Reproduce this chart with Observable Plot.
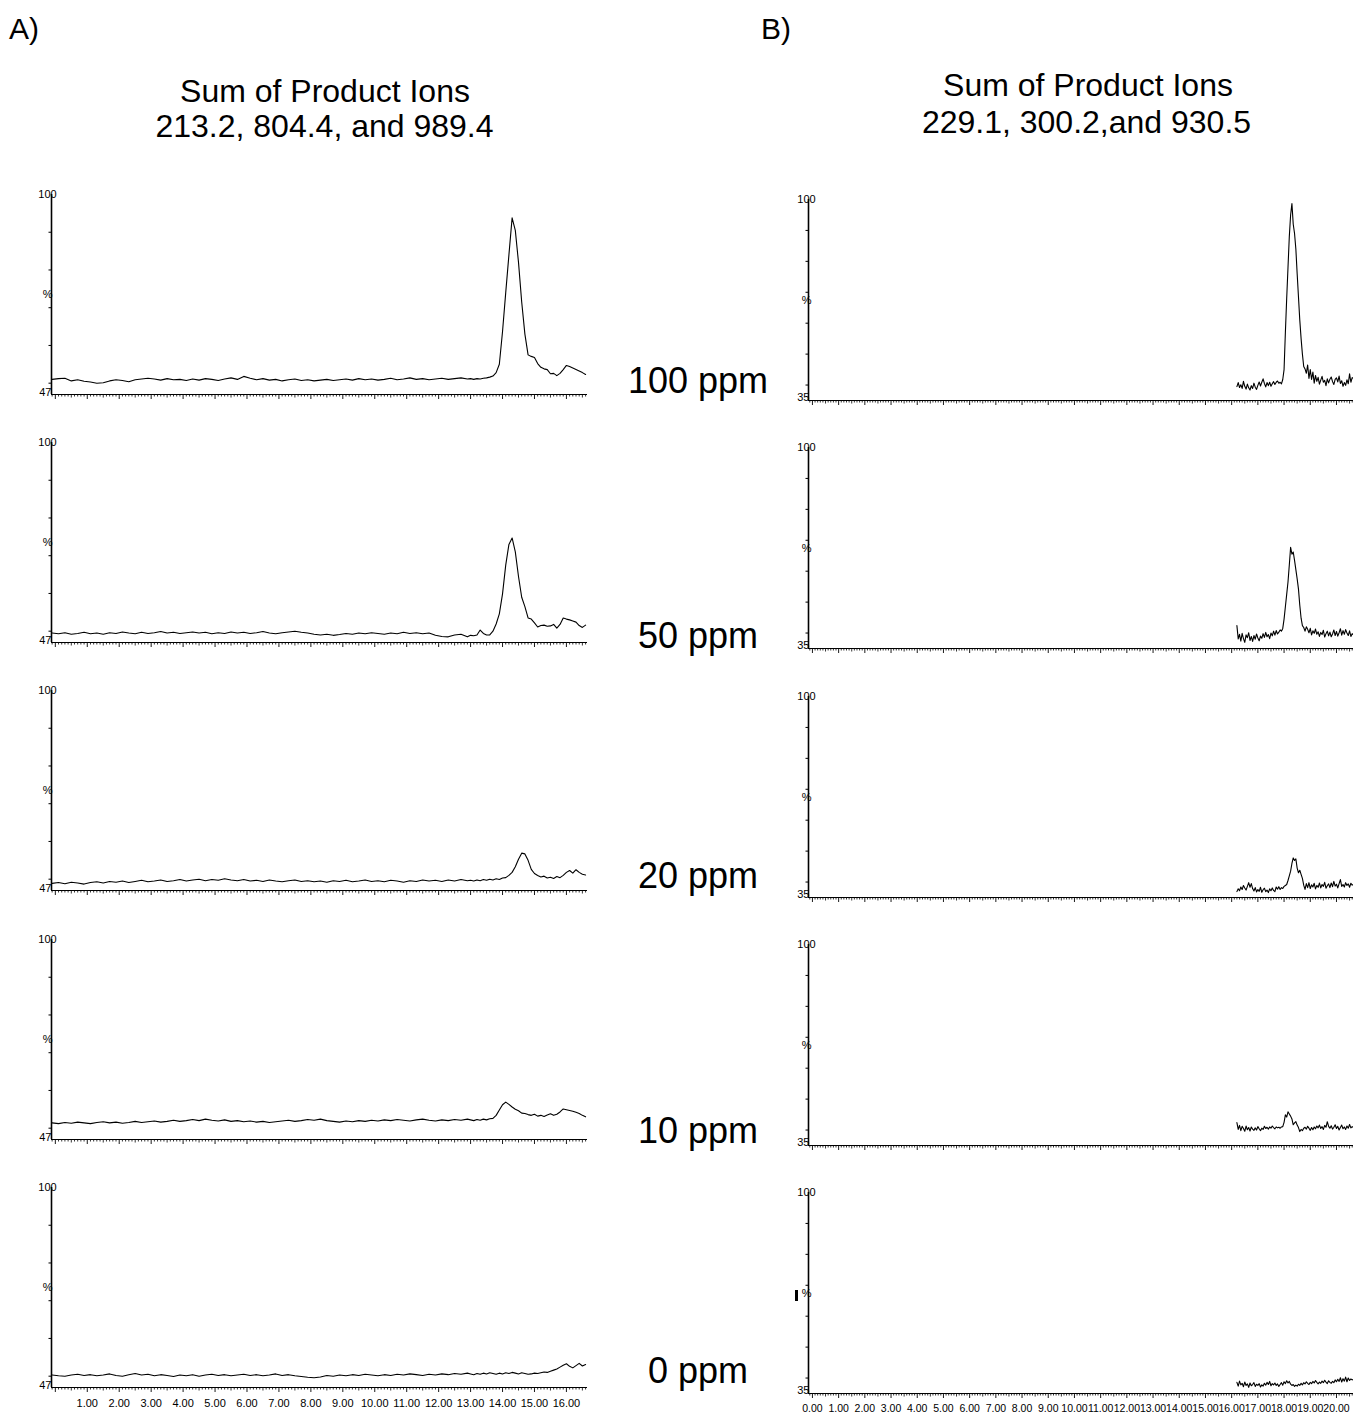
<!DOCTYPE html>
<html>
<head>
<meta charset="utf-8">
<script src="https://cdn.jsdelivr.net/npm/d3@7"></script>
<script src="https://cdn.jsdelivr.net/npm/@observablehq/plot@0.6"></script>
<style>
  html, body { margin: 0; padding: 0; background: #fff; }
  #root { position: relative; width: 1353px; height: 1414px; overflow: hidden; background: #fff;
          font-family: "Liberation Sans", Arial, Helvetica, sans-serif; color: #000; }
  .t { position: absolute; white-space: nowrap; line-height: 1; }
  #root svg { position: absolute; background: transparent; }
</style>
</head>
<body>
<div id="root"></div>
<script>
// ---------------- DATA ----------------
const panelLetters = ["A)", "B)"];
const leftTitle = ["Sum of Product Ions", "213.2, 804.4, and 989.4"];
const rightTitle = ["Sum of Product Ions", "229.1, 300.2,and 930.5"];
const concentrationLabels = ["100 ppm", "50 ppm", "20 ppm", "10 ppm", "0 ppm"];

// retention time (min), panel A
const leftTime = [
  -0.1, 0.1, 0.3, 0.5, 0.7, 0.9, 1.1, 1.3, 1.5, 1.7,
  1.9, 2.1, 2.3, 2.5, 2.7, 2.9, 3.1, 3.3, 3.5, 3.7,
  3.9, 4.1, 4.3, 4.5, 4.7, 4.9, 5.1, 5.3, 5.5, 5.7,
  5.9, 6.1, 6.3, 6.5, 6.7, 6.9, 7.1, 7.3, 7.5, 7.7,
  7.9, 8.1, 8.3, 8.5, 8.7, 8.9, 9.1, 9.3, 9.5, 9.7,
  9.9, 10.1, 10.3, 10.5, 10.7, 10.9, 11.1, 11.3, 11.5, 11.7,
  11.9, 12.1, 12.3, 12.5, 12.7, 12.9, 13.0, 13.1, 13.2, 13.3,
  13.4, 13.5, 13.6, 13.7, 13.8, 13.9, 14.0, 14.1, 14.2, 14.3,
  14.4, 14.5, 14.6, 14.7, 14.8, 14.9, 15.0, 15.1, 15.2, 15.3,
  15.4, 15.5, 15.6, 15.7, 15.8, 15.9, 16.0, 16.1, 16.2, 16.3,
  16.4, 16.5, 16.6
];
// relative intensity (%), panel A
const left100 = [
  51.0, 51.2, 51.3, 50.6, 50.9, 50.5, 50.3, 50.0, 50.1, 50.6,
  50.9, 50.7, 50.4, 50.9, 51.1, 51.3, 51.1, 50.8, 51.2, 50.9,
  51.0, 50.7, 51.1, 50.8, 51.2, 51.0, 50.7, 51.1, 51.4, 51.0,
  51.8, 51.3, 50.9, 51.2, 50.8, 51.0, 50.6, 50.9, 51.1, 50.7,
  50.9, 50.6, 50.8, 51.0, 50.7, 50.9, 51.1, 50.8, 51.2, 50.9,
  51.1, 50.8, 51.0, 51.3, 50.9, 51.1, 51.4, 51.0, 51.2, 50.9,
  51.1, 51.3, 51.0, 51.2, 51.4, 51.1, 51.2, 51.0, 51.2, 51.1,
  51.3, 51.4, 51.6, 51.9, 52.8, 55.0, 63.7, 74.0, 84.0, 93.8,
  90.5, 82.0, 71.5, 63.0, 57.5, 57.1, 56.8, 55.2, 54.2, 53.8,
  53.6, 52.5, 52.6, 52.0, 52.6, 53.6, 54.7, 54.4, 54.0, 53.6,
  53.2, 52.8, 52.3
];
const left50 = [
  49.5, 49.3, 49.6, 49.2, 49.4, 49.7, 49.3, 49.5, 49.2, 49.6,
  49.4, 49.8, 49.5, 49.3, 49.7, 49.4, 49.6, 49.9, 49.5, 49.7,
  49.4, 49.6, 49.8, 49.5, 49.7, 49.3, 49.6, 49.4, 49.8, 49.5,
  49.7, 49.4, 49.6, 49.9, 49.5, 49.3, 49.6, 49.8, 50.0, 49.7,
  49.5, 49.2, 49.0, 49.2, 48.9, 49.1, 49.4, 49.2, 49.5, 49.3,
  49.6, 49.4, 49.2, 49.5, 49.3, 49.7, 49.4, 49.6, 49.3, 49.5,
  48.9, 48.6, 48.5, 49.0, 49.2, 48.5, 48.9, 48.8, 49.0, 50.3,
  49.4, 49.0, 49.0, 50.0, 51.9, 54.6, 59.9, 67.5, 73.0, 74.7,
  71.0, 64.5, 59.0, 56.5, 53.5, 53.2, 52.2, 51.1, 51.5, 51.6,
  51.3, 51.4, 51.8, 50.8, 51.8, 53.5, 53.2, 53.0, 52.7, 52.4,
  51.5, 51.0, 51.6
];
const left20 = [
  48.9, 49.1, 48.8, 49.2, 49.0, 48.7, 49.1, 49.3, 49.0, 49.4,
  49.2, 49.5, 49.1, 49.4, 49.7, 49.3, 49.5, 49.8, 49.4, 49.6,
  49.9, 49.5, 49.8, 50.0, 49.6, 49.9, 49.7, 50.1, 49.8, 49.6,
  49.9, 49.5, 49.7, 49.4, 49.8, 49.5, 49.3, 49.6, 49.8, 49.4,
  49.6, 49.3, 49.5, 49.2, 49.6, 49.4, 49.7, 49.3, 49.5, 49.8,
  49.4, 49.6, 49.3, 49.7, 49.5, 49.2, 49.6, 49.4, 49.8, 49.5,
  49.7, 49.4, 49.8, 49.5, 49.9, 49.6, 49.7, 49.5, 49.8, 49.6,
  49.9, 49.7, 50.0, 49.8, 50.1, 49.9, 50.3, 50.4, 51.0, 51.8,
  53.3, 55.3, 56.9, 56.7, 55.0, 52.6, 51.5, 51.0, 50.6, 50.8,
  50.3, 50.5, 50.2, 50.7, 50.4, 51.0, 51.8, 52.3, 51.6, 52.5,
  51.8, 51.3, 51.1
];
const left10 = [
  51.4, 51.2, 51.5, 51.3, 51.6, 51.4, 51.2, 51.5, 51.7, 51.4,
  51.6, 51.3, 51.5, 51.8, 51.5, 51.7, 51.9, 51.6, 51.8, 52.1,
  51.8, 52.0, 52.3, 52.0, 52.4, 52.1, 51.9, 52.2, 51.8, 52.0,
  51.7, 51.9, 51.6, 51.8, 51.5, 51.7, 51.9, 52.1, 51.8, 52.0,
  52.3, 52.1, 52.4, 52.0, 51.8, 51.6, 51.9, 51.7, 52.0, 51.8,
  52.1, 51.9, 52.2, 52.0, 52.3, 52.1, 51.9, 52.2, 52.4, 52.1,
  51.9, 52.2, 52.0, 52.3, 52.1, 52.4, 52.2, 52.0, 52.3, 52.1,
  52.4, 52.2, 52.5, 52.6, 53.4, 54.8, 56.2, 56.9, 56.3, 55.6,
  55.0, 54.6, 54.0, 53.9, 53.6, 53.4, 53.7, 53.2, 53.4, 53.1,
  53.5, 53.8, 53.4, 53.7, 54.3, 55.1, 54.9, 54.7, 54.5, 54.2,
  53.9, 53.4, 53.0
];
const left0 = [
  50.3, 50.1, 50.0, 50.3, 50.5, 50.2, 50.4, 50.1, 50.3, 50.6,
  50.2, 50.0, 50.4, 50.7, 50.3, 50.5, 50.1, 50.4, 50.2, 49.9,
  50.3, 50.1, 50.4, 50.0, 50.3, 50.5, 50.2, 50.4, 50.1, 50.3,
  50.5, 50.2, 50.4, 50.1, 50.3, 50.6, 50.2, 50.4, 50.1, 49.9,
  49.7, 49.6, 49.8, 50.2, 50.0, 50.3, 50.1, 50.4, 50.2, 50.5,
  50.3, 50.1, 50.4, 50.2, 50.5, 50.3, 50.6, 50.4, 50.2, 50.5,
  50.3, 50.6, 50.4, 50.7, 50.5, 50.8, 50.6, 50.4, 50.7, 50.5,
  50.8, 50.6, 50.9, 50.7, 50.5, 50.8, 50.6, 50.9, 50.7, 51.0,
  50.8, 50.6, 50.9, 50.7, 50.5, 50.6, 50.8, 50.7, 50.9, 51.1,
  51.0, 51.3, 51.6, 51.9, 52.4, 52.9, 53.3, 52.6, 52.2, 52.8,
  53.4, 52.7, 53.1
];

// retention time (min), panel B
const rightTime = [
  16.20, 16.25, 16.30, 16.35, 16.40, 16.45, 16.50, 16.55, 16.60, 16.65,
  16.70, 16.75, 16.80, 16.85, 16.90, 16.95, 17.00, 17.05, 17.10, 17.15,
  17.20, 17.25, 17.30, 17.35, 17.40, 17.45, 17.50, 17.55, 17.60, 17.65,
  17.70, 17.75, 17.80, 17.85, 17.90, 17.95, 18.00, 18.05, 18.10, 18.15,
  18.20, 18.25, 18.30, 18.35, 18.40, 18.45, 18.50, 18.55, 18.60, 18.65,
  18.70, 18.75, 18.80, 18.85, 18.90, 18.95, 19.00, 19.05, 19.10, 19.15,
  19.20, 19.25, 19.30, 19.35, 19.40, 19.45, 19.50, 19.55, 19.60, 19.65,
  19.70, 19.75, 19.80, 19.85, 19.90, 19.95, 20.00, 20.05, 20.10, 20.15,
  20.20, 20.25, 20.30, 20.35, 20.40, 20.45, 20.50, 20.55, 20.60, 20.65
];
// relative intensity (%), panel B
const right100 = [
  39.5, 40.8, 39.2, 40.1, 38.9, 41.2, 39.6, 38.7, 40.3, 39.1,
  38.4, 39.8, 38.9, 40.6, 39.3, 38.6, 39.9, 41.0, 39.7, 40.9,
  42.0, 40.5, 39.4, 40.8, 39.8, 40.9, 39.6, 40.4, 41.1, 40.2,
  40.9, 41.3, 40.6, 40.9, 40.4, 41.8, 45.0, 57.0, 68.0, 78.0,
  88.0, 95.0, 98.7, 92.0, 89.0, 84.0, 76.0, 68.5, 61.0, 55.0,
  50.0, 46.0, 45.2, 43.8, 46.5, 42.1, 45.0, 41.8, 44.2, 40.6,
  43.1, 41.2, 42.5, 40.3, 41.6, 42.8, 40.9, 41.5, 39.8, 42.0,
  40.7, 41.9, 42.6, 41.1, 40.2, 41.8, 42.3, 41.0, 42.9, 40.5,
  41.4, 39.6, 40.8, 39.9, 41.7, 40.4, 43.6, 40.9, 42.4, 42.1
];
const right50 = [
  42.4, 38.1, 39.6, 37.4, 39.9, 38.2, 37.0, 39.4, 38.5, 40.1,
  37.6, 38.9, 37.3, 39.2, 38.0, 39.7, 38.4, 37.5, 39.0, 38.3,
  39.8, 38.6, 40.2, 38.8, 39.5, 38.2, 40.0, 39.1, 40.6, 39.3,
  40.8, 39.7, 40.3, 41.0, 40.6, 41.5, 44.5, 48.5, 52.5, 56.5,
  62.0, 67.7, 65.5, 66.2, 63.5, 60.5, 57.5, 54.2, 49.0, 44.8,
  42.4, 41.8, 40.6, 42.0, 41.2, 40.1, 41.5, 39.4, 40.7, 39.9,
  41.3, 39.6, 40.4, 38.9, 40.2, 39.5, 40.9, 38.7, 39.8, 40.6,
  39.1, 40.3, 38.8, 39.7, 41.0, 39.2, 40.5, 39.0, 40.1, 41.4,
  39.3, 40.8, 39.6, 41.1, 40.0, 39.2, 40.7, 38.9, 39.8, 39.4
];
const right20 = [
  36.9, 37.8, 37.2, 38.4, 37.6, 38.9, 38.1, 37.4, 38.6, 39.8,
  38.3, 39.5, 37.9, 37.1, 38.2, 36.8, 37.6, 37.0, 38.3, 36.7,
  37.5, 38.0, 36.9, 37.4, 36.6, 37.8, 37.2, 38.1, 37.3, 36.9,
  38.4, 37.7, 38.5, 37.6, 38.2, 37.9, 38.6, 38.9, 39.2, 40.5,
  42.0, 43.5, 46.0, 47.8, 47.0, 47.5, 44.5, 43.0, 43.8, 42.5,
  41.2, 39.0, 37.6, 39.5, 38.2, 39.8, 37.9, 39.1, 38.4, 39.6,
  37.8, 38.9, 38.3, 39.7, 38.1, 39.2, 38.6, 39.9, 38.0, 38.8,
  39.4, 38.2, 39.7, 38.5, 40.2, 38.7, 39.3, 38.1, 39.5, 40.8,
  38.6, 39.2, 38.4, 39.8, 38.9, 39.4, 38.3, 39.6, 39.0, 39.3
];
const right10 = [
  42.4, 40.2, 41.5, 39.8, 41.2, 40.5, 39.6, 41.3, 40.1, 40.8,
  39.7, 41.0, 40.3, 39.9, 40.7, 40.0, 41.1, 40.4, 39.8, 40.6,
  40.2, 41.2, 40.5, 40.9, 40.3, 41.0, 40.6, 41.3, 40.8, 40.4,
  41.0, 40.7, 40.9, 40.6, 41.0, 41.1, 42.5, 44.9, 44.2, 45.9,
  45.2, 44.5, 43.6, 41.7, 42.3, 42.7, 41.6, 40.8, 39.5, 40.2,
  39.8, 40.6, 40.9, 40.3, 41.2, 40.6, 39.9, 40.8, 40.1, 41.0,
  40.4, 41.3, 40.7, 41.6, 40.5, 41.1, 40.2, 41.5, 40.9, 42.7,
  41.2, 40.6, 41.4, 40.3, 40.9, 41.7, 40.5, 41.2, 40.0, 40.8,
  41.6, 40.4, 41.0, 40.2, 41.3, 40.6, 41.8, 40.7, 41.1, 40.9
];
const right0 = [
  38.6, 37.4, 39.0, 37.8, 38.3, 37.2, 38.7, 37.6, 38.1, 37.0,
  38.4, 37.5, 37.9, 38.5, 37.3, 38.0, 37.6, 38.2, 37.1, 37.8,
  37.4, 38.3, 37.7, 38.6, 37.9, 38.9, 37.5, 38.2, 37.8, 38.4,
  37.6, 38.1, 37.3, 37.9, 38.5, 37.7, 38.8, 38.2, 39.1, 38.4,
  38.9, 38.0, 37.6, 37.9, 37.3, 37.7, 37.4, 38.0, 37.6, 38.3,
  37.8, 38.5, 38.1, 38.8, 38.3, 37.9, 38.6, 38.2, 38.9, 38.4,
  39.2, 38.6, 38.1, 38.7, 38.3, 39.0, 38.5, 39.3, 38.7, 38.2,
  39.1, 38.6, 38.3, 38.9, 38.5, 39.4, 38.8, 39.6, 38.9, 40.1,
  38.7, 39.8, 39.0, 40.3, 38.8, 40.0, 39.2, 39.7, 39.4, 39.6
];

// axis ticks and labels
const leftXTickLabels = [1, 2, 3, 4, 5, 6, 7, 8, 9, 10, 11, 12, 13, 14, 15, 16];
const rightXTickLabels = [0, 1, 2, 3, 4, 5, 6, 7, 8, 9, 10, 11, 12, 13, 14, 15, 16, 17, 18, 19, 20];
const leftYTicks = [50, 60, 70, 80, 90];
const rightYTicks = [40, 50, 60, 70, 80, 90];
const leftYLabels = ["100", "%", "47"];
const leftYLabelValues = [100, 73.5, 47];
const rightYLabels = ["100", "%", "35"];
const rightYLabelValues = [100, 67.5, 35];

const leftSeries = [left100, left50, left20, left10, left0];
const rightSeries = [right100, right50, right20, right10, right0];

// ---------------- DRAWING ----------------
const root = document.getElementById("root");
const fmt = d3.format(".2f");

function chromatogram(cfg) {
  const mt = 12, mb = 26;
  const points = cfg.time.map((t, i) => ({t, v: cfg.values[i]}));
  const tenths = d3.range(Math.ceil(cfg.domainX[0] * 10), Math.floor(cfg.domainX[1] * 10) + 1);
  const minor = tenths.filter(k => k % 5 !== 0).map(k => k / 10);
  const half = tenths.filter(k => k % 5 === 0 && k % 10 !== 0).map(k => k / 10);
  const whole = tenths.filter(k => k % 10 === 0).map(k => k / 10);
  const x0 = cfg.domainX[0], y0 = cfg.domainY[0];
  const marks = [
    Plot.axisX({ticks: minor, tickSize: 2.5, fill: null, stroke: "black", strokeWidth: 0.8, label: null}),
    Plot.axisX({ticks: half, tickSize: 3.5, fill: null, stroke: "black", strokeWidth: 0.8, label: null}),
    Plot.axisX({ticks: whole, tickSize: 5, fill: null, stroke: "black", strokeWidth: 0.9, label: null}),
    Plot.axisY({ticks: cfg.ticksY, tickSize: 2.5, fill: null, stroke: "black", label: null}),
    Plot.ruleY([y0], {stroke: "black", strokeWidth: 1}),
    Plot.ruleX([x0], {stroke: "black", strokeWidth: 1.6}),
    Plot.line(points, {x: "t", y: "v", stroke: "black", strokeWidth: 1.1})
  ];
  cfg.labelsY.forEach((s, i) => {
    const o = cfg.labelOffsets[i];
    marks.push(Plot.text([cfg.labelValuesY[i]], {
      x: () => x0, y: d => d, text: () => s,
      textAnchor: o.anchor, dx: o.dx, dy: o.dy || 0, fontSize: 11, fill: "black"
    }));
  });
  if (cfg.showX) {
    marks.push(Plot.text(cfg.xLabels, {
      x: d => d, y: () => y0, text: d => fmt(d), dy: cfg.labelDy, fontSize: cfg.xFont, fill: "black"
    }));
  }
  const svg = Plot.plot({
    width: cfg.width,
    height: mt + cfg.plotH + mb,
    marginTop: mt, marginBottom: mb,
    marginLeft: cfg.marginLeft, marginRight: cfg.marginRight,
    x: {domain: cfg.domainX, axis: null, label: null},
    y: {domain: cfg.domainY, axis: null, label: null},
    style: {background: "transparent", fontFamily: "Liberation Sans, Arial, sans-serif", color: "black", overflow: "visible"},
    marks
  });
  svg.style.left = cfg.left + "px";
  svg.style.top = (cfg.top - mt) + "px";
  root.appendChild(svg);
}

for (let i = 0; i < 5; i++) {
  chromatogram({
    time: leftTime, values: leftSeries[i],
    domainX: [-0.12, 16.66], domainY: [47, 100],
    ticksY: leftYTicks, labelsY: leftYLabels, labelValuesY: leftYLabelValues,
    labelOffsets: [{anchor: "middle", dx: -4}, {anchor: "end", dx: 1}, {anchor: "end", dx: 0, dy: -2}],
    xLabels: leftXTickLabels, showX: i === 4, labelDy: 16, xFont: 11,
    width: 600, marginLeft: 51, marginRight: 13, plotH: 200,
    left: 0, top: 193.5 + 248.4 * i
  });
  chromatogram({
    time: rightTime, values: rightSeries[i],
    domainX: [-0.15, 20.65], domainY: [35, 100],
    ticksY: rightYTicks, labelsY: rightYLabels, labelValuesY: rightYLabelValues,
    labelOffsets: [{anchor: "middle", dx: -2}, {anchor: "end", dx: 3}, {anchor: "end", dx: 1, dy: -3}],
    xLabels: rightXTickLabels, showX: i === 4, labelDy: 15, xFont: 10.5,
    width: 593, marginLeft: 48, marginRight: 0, plotH: 201,
    left: 760, top: 199 + 248.3 * i
  });
}

function addText(str, {cx, left, top, size}) {
  const d = document.createElement("div");
  d.className = "t";
  d.textContent = str;
  d.style.fontSize = size + "px";
  d.style.top = top + "px";
  if (cx !== undefined) { d.style.left = cx + "px"; d.style.transform = "translateX(-50%)"; }
  else d.style.left = left + "px";
  root.appendChild(d);
}

addText(panelLetters[0], {left: 9, top: 13.5, size: 30});
addText(panelLetters[1], {left: 761, top: 13.5, size: 30});
addText(leftTitle[0], {cx: 325, top: 74.5, size: 32});
addText(leftTitle[1], {cx: 324.5, top: 109.5, size: 32});
addText(rightTitle[0], {cx: 1088, top: 68.5, size: 32});
addText(rightTitle[1], {cx: 1086.5, top: 105.5, size: 32});
const ppmCenters = [380, 635, 875, 1130, 1370];
concentrationLabels.forEach((s, i) => addText(s, {cx: 698, top: ppmCenters[i] - 17.5, size: 36}));

// small stray mark to the left of the last B) axis
const bar = document.createElement("div");
bar.style.cssText = "position:absolute;left:795px;top:1290px;width:3px;height:11px;background:#000;";
root.appendChild(bar);
</script>
</body>
</html>
